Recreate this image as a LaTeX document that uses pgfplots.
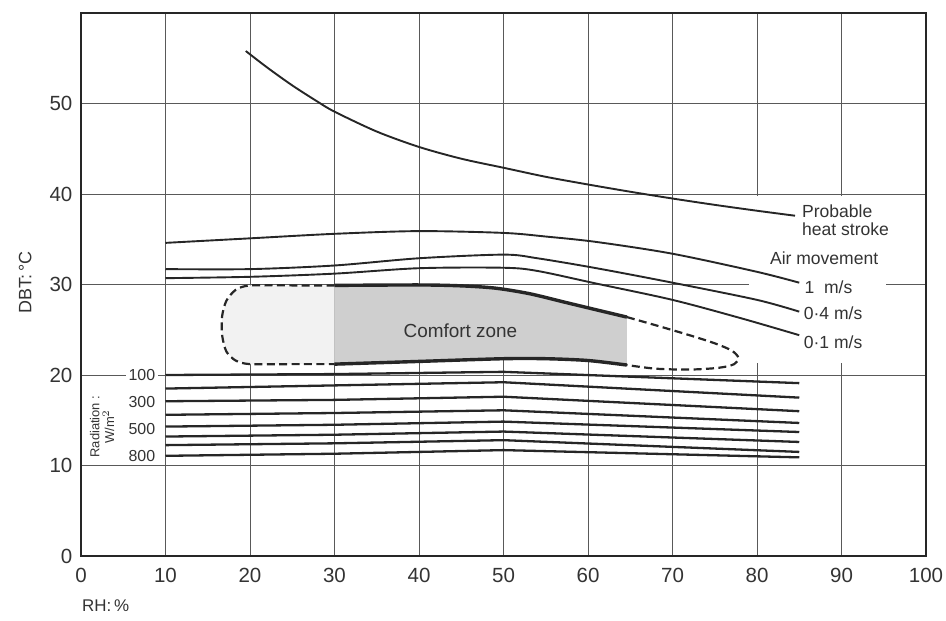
\documentclass[border=0pt]{standalone}
\usepackage{fontspec}
\setmainfont{Liberation Sans}
\usepackage{pgfplots}
\pgfplotsset{compat=1.18}
\begin{document}
\begin{tikzpicture}
\path[use as bounding box] (-40.5bp,-32.5bp) rectangle (432.5bp,278bp);
\begin{axis}[
  at={(0,0)}, anchor=south west,
  width=422.5bp, height=271.5bp, scale only axis,
  xmin=0, xmax=100, ymin=0, ymax=60,
  xtick={0,10,...,100}, ytick={0,10,...,50},
  grid=major,
  major grid style={line width=0.45bp, draw=black!65},
  major tick length=0pt,
  axis line style={line width=0.65bp, draw=black!85},
  tick label style={font=\fontsize{10.3}{12}\selectfont, text=black!80},
  /pgf/number format/assume math mode=true,
  xticklabel style={yshift=-2.4bp},
  yticklabel style={xshift=-0.8bp},
  clip=false,
]
% white area behind right-hand labels
\addplot[draw=none, fill=white] coordinates {(79,21.3)(95.3,21.3)(95.3,39.8)(79,39.8)} -- cycle;

% comfort zone shading
\addplot[draw=none, fill=black!5] coordinates {
 (30,29.9)(20,29.9)(18.3,29.4)(17.2,28.2)(16.7,26.5)(16.7,24.4)(17.2,22.6)(18.3,21.6)(20,21.2)(30,21.2)} -- cycle;
\addplot[draw=none, fill=black!19] coordinates {
 (30,29.9)(40,29.95)(45,29.85)(49,29.6)(53,29.0)(57,28.1)(61,27.2)(64.6,26.4)
 (64.6,21.1)(60,21.6)(55,21.8)(50,21.8)(40,21.5)(30,21.2)} -- cycle;

% comfort zone outline
\addplot[smooth, tension=0.45, line width=1.1bp, black!85, dash pattern=on 4bp off 2.2bp] coordinates {
 (30,29.9)(25,29.9)(20,29.9)(18.3,29.4)(17.2,28.2)(16.7,26.5)(16.7,24.4)(17.2,22.6)(18.3,21.6)(20,21.2)(25,21.2)(30,21.2)};
\addplot[smooth, line width=1.7bp, black!85] coordinates {
 (30,29.9)(40,29.95)(45,29.85)(49,29.6)(53,29.0)(57,28.1)(61,27.2)(64.6,26.4)};
\addplot[smooth, line width=1.7bp, black!85] coordinates {
 (30,21.2)(40,21.5)(50,21.8)(55,21.8)(60,21.6)(64.6,21.1)};
\addplot[smooth, tension=0.5, line width=1.1bp, black!85, dash pattern=on 4bp off 2.2bp] coordinates {
 (64.6,26.4)(68,25.5)(72,24.4)(75,23.5)(77,22.7)(77.8,21.9)(77.3,21.2)(75.5,20.8)(72,20.6)(68,20.7)(64.6,21.1)};

% probable heat stroke
\addplot[smooth, line width=0.95bp, black!85] coordinates {
 (19.5,55.8)(22,54.0)(25,52.0)(28,50.2)(30,49.1)(35,46.9)(40,45.2)(45,43.9)(50,42.9)
 (55,41.9)(60,41.05)(65,40.25)(70,39.5)(75,38.8)(80,38.15)(84.5,37.6)};

% air movement
\addplot[smooth, line width=0.95bp, black!85] coordinates {
 (10,34.6)(20,35.1)(30,35.6)(40,35.9)(50,35.7)(55,35.3)(61,34.7)(70,33.4)(80,31.4)(85,30.2)};
\addplot[smooth, line width=0.95bp, black!85] coordinates {
 (10,31.7)(20,31.7)(30,32.1)(40,32.9)(50,33.3)(54,32.9)(61,31.8)(70,30.2)(80,28.3)(85,27.0)};
\addplot[smooth, line width=0.95bp, black!85] coordinates {
 (10,30.7)(20,30.85)(30,31.2)(40,31.8)(50,31.85)(54,31.5)(61,30.1)(70,28.3)(78,26.3)(85,24.4)};

% radiation lines
\pgfplotsset{radline/.style={line width=1.15bp, black!85}}
\addplot[radline] coordinates {(10,20.0)(30,20.1)(50,20.35)(85,19.1)};
\addplot[radline] coordinates {(10,18.5)(30,18.85)(50,19.2)(85,17.5)};
\addplot[radline] coordinates {(10,17.1)(30,17.25)(50,17.6)(85,16.0)};
\addplot[radline] coordinates {(10,15.6)(30,15.8)(50,16.1)(85,14.7)};
\addplot[radline] coordinates {(10,14.3)(30,14.5)(50,14.85)(85,13.7)};
\addplot[radline] coordinates {(10,13.2)(30,13.4)(50,13.75)(85,12.6)};
\addplot[radline] coordinates {(10,12.25)(30,12.45)(50,12.8)(85,11.5)};
\addplot[radline] coordinates {(10,11.07)(30,11.3)(50,11.7)(85,10.9)};

% labels
\node[anchor=west, align=left, inner sep=0pt, text=black!80, font=\fontsize{8.8}{9}\selectfont] at (axis cs:85.3,37.1) {Probable\\heat stroke};
\node[anchor=west, inner sep=0pt, text=black!80, font=\fontsize{8.8}{9}\selectfont] at (axis cs:81.5,32.9) {Air movement};
\node[anchor=west, inner sep=0pt, text=black!80, font=\fontsize{8.8}{9}\selectfont] at (axis cs:85.6,29.7) {1\hspace{0.55em}m/s};
\node[anchor=west, inner sep=0pt, text=black!80, font=\fontsize{8.8}{9}\selectfont] at (axis cs:85.5,26.8) {0·4 m/s};
\node[anchor=west, inner sep=0pt, text=black!80, font=\fontsize{8.8}{9}\selectfont] at (axis cs:85.5,23.65) {0·1 m/s};
\node[text=black!80, font=\fontsize{9.5}{10}\selectfont] at (axis cs:44.9,24.9) {Comfort zone};

\node[fill=white, inner sep=1.2bp, text=black!80, font=\fontsize{8}{9}\selectfont] at (axis cs:7.2,20) {100};
\node[inner sep=0pt, text=black!80, font=\fontsize{8}{9}\selectfont] at (axis cs:7.2,17.0) {300};
\node[inner sep=0pt, text=black!80, font=\fontsize{8}{9}\selectfont] at (axis cs:7.2,14.0) {500};
\node[inner sep=0pt, text=black!80, font=\fontsize{8}{9}\selectfont] at (axis cs:7.2,11.06) {800};
\node[rotate=90, align=center, inner sep=0pt, text=black!80, font=\fontsize{6.5}{7.5}\selectfont] at (axis cs:2.5,14.3) {Radiation :\\W/m$^{2}$};

\node[rotate=90, inner sep=0pt, text=black!80, font=\fontsize{9}{10}\selectfont] at (axis cs:-6.6,30.2) {DBT:\,°C};
\node[anchor=west, inner sep=0pt, text=black!80, font=\fontsize{8.5}{10}\selectfont] at (axis cs:0.1,-5.5) {RH:\,\%};
\end{axis}
\end{tikzpicture}
\end{document}
